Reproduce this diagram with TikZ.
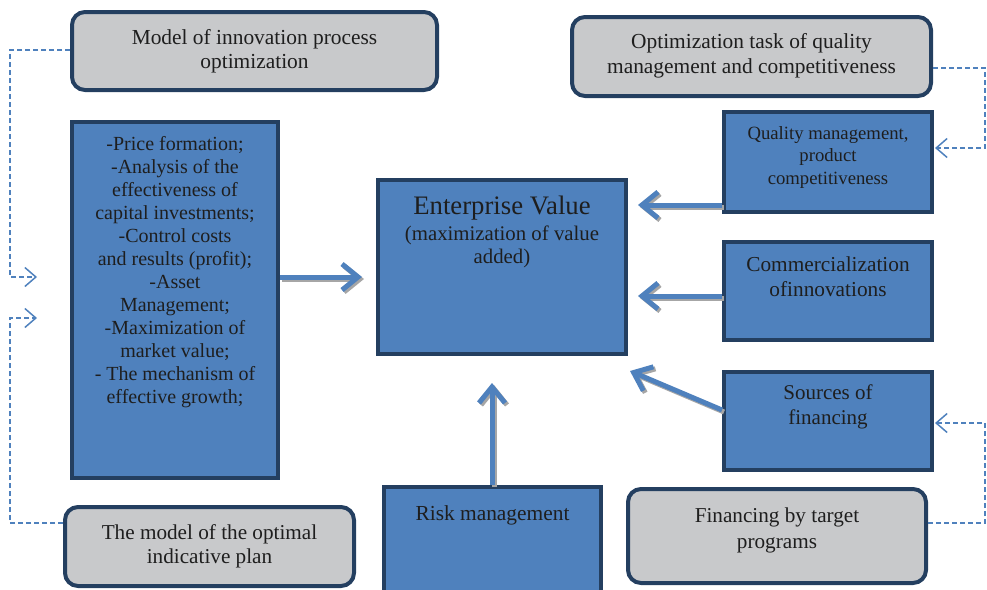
\documentclass[tikz,border=0pt]{standalone}
\usepackage{fontspec}
\setmainfont{Liberation Serif}
\usetikzlibrary{arrows.meta}
\definecolor{boxblue}{HTML}{4F81BD}
\definecolor{boxedge}{HTML}{243F60}
\definecolor{boxgray}{HTML}{C8C9CB}
\definecolor{txt}{HTML}{1E1E1E}
\definecolor{shade}{HTML}{A6A6A6}
\begin{document}
\begin{tikzpicture}[x=1pt,y=-1pt,
  bluebox/.style={draw=boxedge, fill=boxblue, line width=4pt, anchor=north west, inner sep=0pt},
  graybox/.style={draw=boxedge, fill=boxgray, line width=4pt, rounded corners=13pt, anchor=north west, inner sep=0pt},
  label text/.style={text=txt, align=center, inner sep=0pt},
  bigarrow/.style={draw=boxblue, line width=5pt, -{Straight Barb[length=16pt,width=26pt,line width=5pt]}, line cap=butt},
  arrowshade/.style={draw=shade, line width=5pt, -{Straight Barb[length=16pt,width=26pt,line width=5pt]}, line cap=butt},
  dashlink/.style={draw=boxblue, line width=1.5pt, dash pattern=on 5pt off 3pt, -{Straight Barb[length=11pt,width=19pt,line width=1.5pt]}}
]
\useasboundingbox (0,0) rectangle (987,589);

% grey model boxes (outline centred 2pt inside the outer edge)
\node[graybox, minimum width=365pt, minimum height=78pt] (mip) at (70,10) {};
\node[label text, font=\fontsize{21.4}{24}\selectfont] (mipt) at (mip.center) {Model of innovation process\\optimization};
\node[graybox, minimum width=359pt, minimum height=79pt] (otq) at (570,15) {};
\node[label text, font=\fontsize{21.4}{25}\selectfont] (otqt) at ([yshift=1pt]otq.center) {Optimization task of quality\\management and competitiveness};
\node[graybox, minimum width=289pt, minimum height=79pt] (mop) at (63,505) {};
\node[label text, font=\fontsize{21.2}{24}\selectfont] (mopt) at (mop.center) {The model of the optimal\\indicative plan};
\node[graybox, minimum width=298pt, minimum height=94pt] (ftp) at (626,487) {};
\node[label text, font=\fontsize{21.2}{26}\selectfont] (ftpt) at ([yshift=6pt]ftp.center) {Financing by target\\programs};

% blue boxes
\node[bluebox, minimum width=206pt, minimum height=356pt] (fun) at (70,120) {};
\node[label text, anchor=north, font=\fontsize{20}{23}\selectfont] (funt) at ([yshift=-16.5pt]fun.north) {-Price formation;\\-Analysis of the\\effectiveness of\\capital investments;\\-Control costs\\and results (profit);\\-Asset\\Management;\\-Maximization of\\market value;\\- The mechanism of\\effective growth;};

\node[bluebox, minimum width=248pt, minimum height=174pt] (ev) at (376,178) {};
\node[label text, anchor=north, font=\fontsize{26.7}{30}\selectfont] (evt) at ([yshift=-18pt]ev.north) {Enterprise Value};
\node[label text, anchor=north, font=\fontsize{20.8}{23}\selectfont] (evs) at ([yshift=-48pt]ev.north) {(maximization of value\\added)};

\node[bluebox, minimum width=208pt, minimum height=100pt] (qm) at (722,110) {};
\node[label text, anchor=north, font=\fontsize{18.7}{22.5}\selectfont] (qmt) at ([yshift=-16pt]qm.north) {Quality management,\\product\\competitiveness};

\node[bluebox, minimum width=208pt, minimum height=98pt] (ci) at (722,240) {};
\node[label text, anchor=north, font=\fontsize{21.3}{25}\selectfont] (cit) at ([yshift=-17pt]ci.north) {Commercialization\\ofinnovations};

\node[bluebox, minimum width=208pt, minimum height=98pt] (sf) at (722,370) {};
\node[label text, anchor=north, font=\fontsize{21}{25}\selectfont] (sft) at ([yshift=-15pt]sf.north) {Sources of\\financing};

\node[bluebox, minimum width=217pt, minimum height=110pt] (rm) at (382,485) {};
\node[label text, anchor=north, font=\fontsize{21.4}{24}\selectfont] (rmt) at ([yshift=-20pt]rm.north) {Risk management};

% anchor points of the thick arrows
\coordinate (funR) at (fun.east |- 0,277);
\coordinate (evL) at (362,277);
\coordinate (qmL) at (qm.west |- 0,205);
\coordinate (evQ) at (638,205);
\coordinate (ciL) at (ci.west |- 0,296);
\coordinate (evC) at (638,296);
\coordinate (sfL) at (sf.west |- 0,410);
\coordinate (evS) at (630,371);
\coordinate (rmT) at (rm.north -| 492,0);
\coordinate (evB) at (492,383);

% thick arrows with drop shade
\foreach \a/\b in {funR/evL, qmL/evQ, ciL/evC, sfL/evS, rmT/evB}{
  \draw[arrowshade] ([shift={(2,2)}]\a) -- ([shift={(2,2)}]\b);
  \draw[bigarrow] (\a) -- (\b);
}

% dashed feedback links
\coordinate (inA) at (37,277);
\coordinate (inB) at (37,318);
\coordinate (inC) at (935,148);
\coordinate (inD) at (935,423);
\draw[dashlink] (mip.west |- 0,50) -| (10,277) -- (inA);
\draw[dashlink] (mop.west |- 0,523) -| (10,318) -- (inB);
\draw[dashlink] (otq.east |- 0,68) -| (985,148) -- (inC);
\draw[dashlink] (ftp.east |- 0,523) -| (985,423) -- (inD);
\end{tikzpicture}
\end{document}
